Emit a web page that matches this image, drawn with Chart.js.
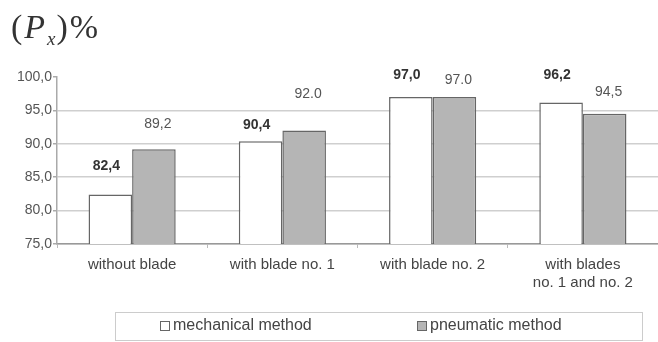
<!DOCTYPE html>
<html><head><meta charset="utf-8">
<script src="https://cdn.jsdelivr.net/npm/chart.js@4.4.1/dist/chart.umd.min.js"></script>
<style>
html,body{margin:0;padding:0;background:#fff;}
#wrap{position:relative;width:658px;height:342px;}
#title{position:absolute;left:11px;top:10px;font-family:"Liberation Serif","Times New Roman",serif;font-size:34px;color:#333;line-height:1;white-space:nowrap;letter-spacing:2px;}
#title sub{font-size:19px;vertical-align:-7px;line-height:0;letter-spacing:1px;}
</style></head><body>
<div id="wrap"><canvas id="c" width="658" height="342"></canvas>
<div id="title">(<i>P</i><sub><i>x</i></sub>)%</div></div>
<script>
const categories = ["without blade", "with blade no. 1", "with blade no. 2", ["with blades", "no. 1 and no. 2"]];
const seriesNames = ["mechanical method", "pneumatic method"];
const mechanical = [82.4, 90.4, 97.0, 96.2];
const pneumatic = [89.2, 92.0, 97.0, 94.5];
const mechanicalLabels = ["82,4", "90,4", "97,0", "96,2"];
const pneumaticLabels = ["89,2", "92.0", "97.0", "94,5"];
const yTicks = [75, 80, 85, 90, 95, 100];

// label placement (styling, not data)
const labelLift = [[28, 16, 22, 27], [25, 36, 17, 22]];
const labelShift = [-4, 4];
const FONT = '"Liberation Sans", Arial, sans-serif';
Chart.defaults.font.family = FONT;

const valueLabels = {
  id: 'valueLabels',
  afterDatasetsDraw(chart) {
    const ctx = chart.ctx;
    const texts = [mechanicalLabels, pneumaticLabels];
    ctx.save();
    ctx.textAlign = 'center';
    ctx.textBaseline = 'middle';
    chart.data.datasets.forEach((ds, di) => {
      const meta = chart.getDatasetMeta(di);
      ctx.font = (di === 0 ? 'bold ' : '') + '14px ' + FONT;
      ctx.fillStyle = di === 0 ? '#333' : '#555';
      meta.data.forEach((bar, i) => {
        ctx.fillText(texts[di][i], bar.x + labelShift[di], bar.y - labelLift[di][i]);
      });
    });
    ctx.restore();
  }
};

const boxLegend = {
  id: 'boxLegend',
  afterDraw(chart) {
    const ctx = chart.ctx;
    ctx.save();
    ctx.strokeStyle = '#cccccc';
    ctx.lineWidth = 1;
    ctx.strokeRect(115.5, 312.5, 527, 28);
    const xs = [160, 417];
    ctx.font = '16px ' + FONT;
    ctx.textBaseline = 'middle';
    ctx.textAlign = 'left';
    chart.data.datasets.forEach((ds, i) => {
      ctx.fillStyle = ds.backgroundColor;
      ctx.fillRect(xs[i], 321, 9, 9);
      ctx.strokeStyle = '#666';
      ctx.lineWidth = 1;
      ctx.strokeRect(xs[i] + 0.5, 321.5, 9, 9);
      ctx.fillStyle = '#444';
      ctx.fillText(ds.label, xs[i] + 13, 326);
    });
    ctx.restore();
  }
};

new Chart(document.getElementById('c'), {
  type: 'bar',
  data: {
    labels: categories,
    datasets: [
      { label: seriesNames[0], data: mechanical, backgroundColor: '#ffffff', borderColor: '#666666', borderWidth: 1.5 },
      { label: seriesNames[1], data: pneumatic, backgroundColor: '#b5b5b5', borderColor: '#666666', borderWidth: 1.5 }
    ]
  },
  options: {
    responsive: false,
    animation: false,
    datasets: { bar: { categoryPercentage: 0.58, barPercentage: 1.0 } },
    layout: { padding: { top: 77, bottom: 48, left: 0, right: -7 } },
    plugins: { legend: { display: false }, title: { display: false }, tooltip: { enabled: false } },
    scales: {
      x: {
        grid: { display: true, drawOnChartArea: false, drawTicks: true, tickLength: 4, color: '#bbbbbb', offset: true },
        border: { color: '#999999', width: 1.5 },
        ticks: { color: '#444', font: { size: 15, lineHeight: 1.2 }, padding: 8, maxRotation: 0, autoSkip: false },
        afterFit: s => { s.height = 50; }
      },
      y: {
        min: 75, max: 100,
        afterBuildTicks: s => { s.ticks = yTicks.map(v => ({ value: v })); },
        ticks: { color: '#555', font: { size: 14 }, padding: 1, callback: v => Number(v).toFixed(1).replace('.', ',') },
        grid: {
          color: c => (c.tick && c.tick.value === 100) ? 'rgba(0,0,0,0)' : '#cfcfcf',
          lineWidth: 1.5, tickColor: '#aaaaaa', tickLength: 4, drawTicks: true
        },
        border: { color: '#aaaaaa', width: 1.5 },
        afterFit: s => { s.width = 57; }
      }
    }
  },
  plugins: [valueLabels, boxLegend]
});
</script>
</body></html>
